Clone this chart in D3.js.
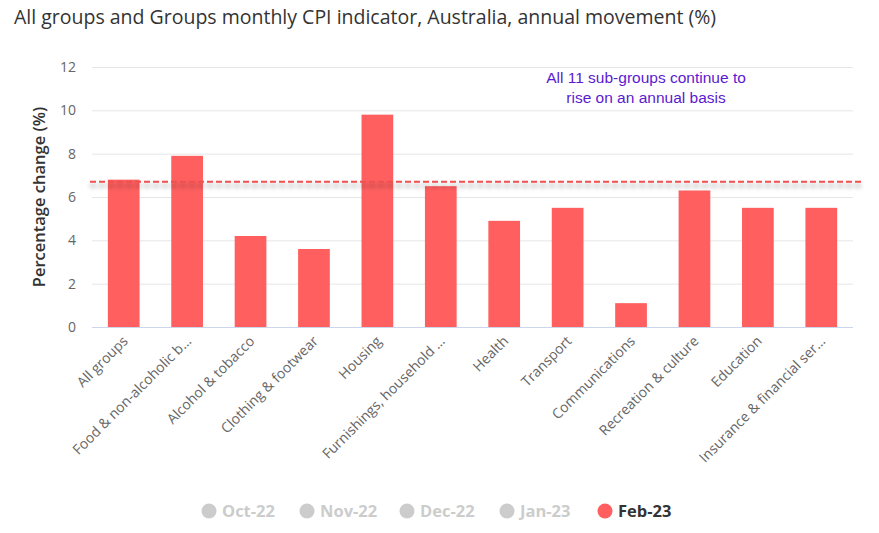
<!DOCTYPE html>
<html><head><meta charset="utf-8">
<script src="https://cdn.jsdelivr.net/npm/d3@7"></script>
<style>body{margin:0;background:#fff;} svg{display:block;font-family:"Open Sans",sans-serif;}</style>
</head><body>
<svg id="c" width="879" height="533"></svg>
<script>
const categories = ["All groups","Food & non-alcoholic b…","Alcohol & tobacco","Clothing & footwear","Housing","Furnishings, household …","Health","Transport","Communications","Recreation & culture","Education","Insurance & financial ser…"];
const feb23 = [6.8,7.9,4.2,3.6,9.8,6.5,4.9,5.5,1.1,6.3,5.5,5.5];
const legendLabels = ["Oct-22","Nov-22","Dec-22","Jan-23","Feb-23"];
const yTicks = [0,2,4,6,8,10,12];
const refValue = 6.7;

const svg = d3.select("#c");
const m = {l:92, r:26, t:67, b:206};
const W = 879, H = 533;
const x = d3.scaleBand().domain(categories).range([m.l, W-m.r]).paddingInner(0.5).paddingOuter(0.25);
const y = d3.scaleLinear().domain([0,12]).range([H-m.b, m.t]);

svg.append("text").attr("x",14).attr("y",24).attr("font-size",19.5).attr("fill","#333").text("All groups and Groups monthly CPI indicator, Australia, annual movement (%)");

// gridlines
svg.append("g").selectAll("line").data(yTicks.filter(d=>d>0)).join("line")
  .attr("x1",m.l).attr("x2",W-m.r).attr("y1",d=>y(d)+0.5).attr("y2",d=>y(d)+0.5)
  .attr("stroke","#e6e6e6");
svg.append("g").selectAll("text").data(yTicks).join("text")
  .attr("x",76).attr("y",d=>y(d)+5).attr("text-anchor","end").attr("font-size",14).attr("fill","#666").text(d=>d);

svg.append("text").attr("transform",`translate(45,${(y(0)+y(12))/2}) rotate(-90)`)
  .attr("text-anchor","middle").attr("font-size",16.5).attr("font-weight","600").attr("fill","#333").text("Percentage change (%)");

// bars
svg.append("g").selectAll("rect").data(feb23).join("rect")
  .attr("x",(d,i)=>x(categories[i])).attr("width",x.bandwidth())
  .attr("y",d=>y(d)).attr("height",d=>y(0)-y(d)).attr("fill","#ff5f5f");

// axis line
svg.append("line").attr("x1",m.l).attr("x2",W-m.r).attr("y1",y(0)+0.5).attr("y2",y(0)+0.5).attr("stroke","#ccd6eb");

// reference line with shadow
const defs = svg.append("defs");
const f = defs.append("filter").attr("id","sh").attr("filterUnits","userSpaceOnUse")
  .attr("x",0).attr("y",0).attr("width",W).attr("height",H);
f.append("feGaussianBlur").attr("in","SourceAlpha").attr("stdDeviation",2.5).attr("result","b");
f.append("feOffset").attr("dy",4).attr("in","b").attr("result","o");
f.append("feComponentTransfer").attr("in","o").attr("result","o2").append("feFuncA").attr("type","linear").attr("slope",0.45);
const fm = f.append("feMerge"); fm.append("feMergeNode").attr("in","o2"); fm.append("feMergeNode").attr("in","SourceGraphic");
svg.append("line").attr("x1",m.l-2).attr("x2",W-18).attr("y1",y(refValue)).attr("y2",y(refValue))
  .attr("stroke","#f0504f").attr("stroke-width",2).attr("stroke-dasharray","6,3").attr("filter","url(#sh)");

// annotation
const ann = svg.append("text").attr("font-family","Liberation Sans, Arial, sans-serif").attr("font-size",15.5).attr("fill","#5b1ad0").attr("text-anchor","middle");
ann.append("tspan").attr("x",646).attr("y",83).text("All 11 sub-groups continue to");
ann.append("tspan").attr("x",646).attr("y",103).text("rise on an annual basis");

// x labels
svg.append("g").selectAll("text").data(categories).join("text")
  .attr("transform",d=>`translate(${x(d)+x.bandwidth()/2+5},${y(0)+15}) rotate(-45)`)
  .attr("text-anchor","end").attr("font-size",14).attr("fill","#666").text(d=>d);

// legend
const lx = [209,307,407,507,605];
const lg = svg.append("g").selectAll("g").data(legendLabels).join("g")
  .attr("transform",(d,i)=>`translate(${lx[i]},511)`);
lg.append("circle").attr("r",7.5).attr("fill",(d,i)=>i===4?"#ff5f5f":"#cccccc");
lg.append("text").attr("x",13).attr("y",6).attr("font-size",16.5).attr("font-weight","bold")
  .attr("fill",(d,i)=>i===4?"#333":"#cccccc").text(d=>d);
</script>
</body></html>
